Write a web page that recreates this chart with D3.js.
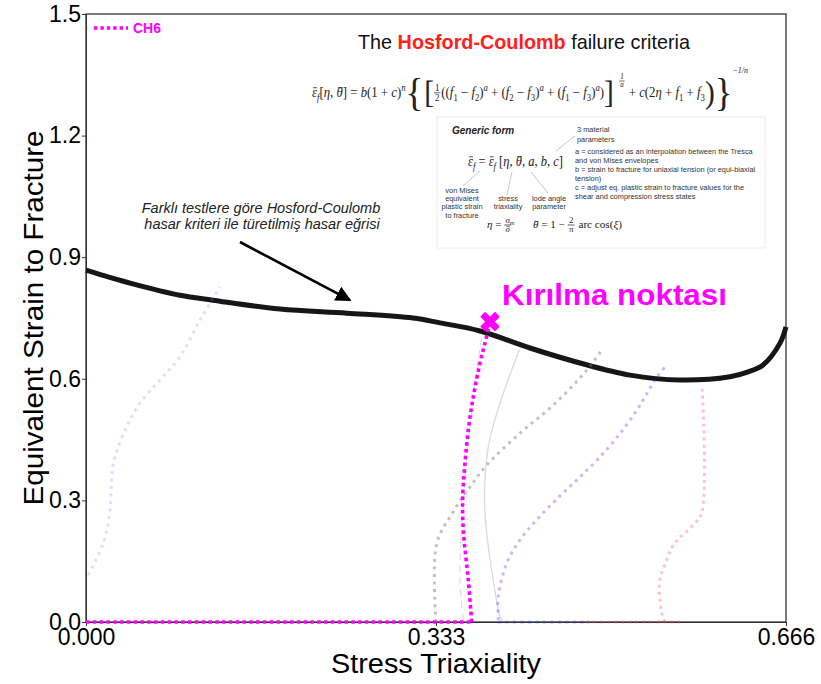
<!DOCTYPE html>
<html>
<head>
<meta charset="utf-8">
<script src="https://cdn.jsdelivr.net/npm/d3@7"></script>
<style>
  body { margin: 0; background: #fff; }
  svg { display: block; }
  text { white-space: pre; }
</style>
</head>
<body>
<svg id="chart" width="821" height="684"></svg>
<script>
// ---- axis ticks ----
const xTicks = [0, 0.333, 0.666];
const yTicks = [0, 0.3, 0.6, 0.9, 1.2, 1.5];

// ---- Hosford-Coulomb fracture locus ----
const hcTriax  = [0, 0.0419, 0.0894, 0.1208, 0.1846, 0.2483, 0.3111, 0.3368, 0.3749, 0.4224, 0.4700, 0.5176, 0.5651, 0.6127, 0.6300, 0.6441, 0.6603, 0.666];
const hcStrain = [0.868, 0.836, 0.806, 0.794, 0.772, 0.762, 0.750, 0.738, 0.718, 0.676, 0.639, 0.609, 0.597, 0.605, 0.617, 0.634, 0.688, 0.728];

// ---- CH6 loading path ----
const ch6Triax  = [0, 0.367, 0.3637, 0.3590, 0.3584, 0.3606, 0.3637, 0.3685, 0.3749, 0.3796, 0.3834];
const ch6Strain = [0, 0, 0.1036, 0.227, 0.309, 0.392, 0.474, 0.556, 0.639, 0.688, 0.730];
const ch6Fracture = [0.3844, 0.741];

// ---- other specimen paths ----
const lavTriax  = [0.0022, 0.0165, 0.0228, 0.0245, 0.0276, 0.0387, 0.0514, 0.0704, 0.0894, 0.1085, 0.1275];
const lavStrain = [0.116, 0.195, 0.276, 0.358, 0.408, 0.482, 0.540, 0.597, 0.654, 0.745, 0.827];

const greyTriax  = [0.333, 0.3337, 0.3495, 0.3653, 0.3812, 0.4130, 0.4446, 0.4764, 0.4906];
const greyStrain = [0, 0.194, 0.272, 0.333, 0.387, 0.466, 0.535, 0.621, 0.671];

const solidTriax  = [0.3970, 0.3939, 0.3875, 0.3828, 0.3796, 0.3796, 0.3828, 0.3907, 0.4003, 0.4122];
const solidStrain = [0, 0.013, 0.103, 0.185, 0.268, 0.350, 0.432, 0.514, 0.588, 0.671];

const dashTriax  = [0.3590, 0.3558, 0.3574, 0.3622, 0.3685, 0.3765];
const dashStrain = [0.005, 0.104, 0.227, 0.392, 0.556, 0.704];

const blueTriax  = [0.3923, 0.3923, 0.4003, 0.4130, 0.4288, 0.4510, 0.4700, 0.4890, 0.5081, 0.5240, 0.5335, 0.5430, 0.5526];
const blueStrain = [0.005, 0.063, 0.145, 0.203, 0.252, 0.311, 0.358, 0.407, 0.465, 0.522, 0.563, 0.604, 0.634];
const blueBaseTriax  = [0.392, 0.478];
const blueBaseStrain = [0, 0];

const redTriax  = [0.551, 0.5492, 0.5461, 0.5461, 0.5525, 0.5588, 0.5778, 0.5857, 0.5863];
const redStrain = [0, 0.009, 0.054, 0.104, 0.153, 0.190, 0.240, 0.268, 0.575];
const redBaseTriax  = [0.476, 0.568];
const redBaseStrain = [0, 0];

// ---- layout ----
const W = 821, H = 684;
const margin = { top: 14, right: 35, bottom: 62, left: 86 };
const sans = "'Liberation Sans', Arial, sans-serif";
const serif = "'Liberation Serif', 'Times New Roman', serif";

const svg = d3.select("#chart");
const x = d3.scaleLinear().domain([0, 0.666]).range([margin.left, W - margin.right]);
const y = d3.scaleLinear().domain([0, 1.5]).range([H - margin.bottom, margin.top]);

const zip = (a, b) => a.map((v, i) => [v, b[i]]);
const smooth = d3.line().x(d => x(d[0])).y(d => y(d[1])).curve(d3.curveCatmullRom.alpha(0.5));
const straight = d3.line().x(d => x(d[0])).y(d => y(d[1]));

const defs = svg.append("defs");
defs.append("filter").attr("id", "soft").append("feGaussianBlur").attr("stdDeviation", 0.6);
defs.append("marker").attr("id", "head").attr("viewBox", "0 0 10 10").attr("refX", 9).attr("refY", 5)
  .attr("markerWidth", 6).attr("markerHeight", 6).attr("orient", "auto").attr("markerUnits", "strokeWidth")
  .append("path").attr("d", "M0,0 L10,5 L0,10 Z").attr("fill", "#000");

// ---- axes ----
const xAxis = svg.append("g").attr("transform", `translate(0,${H - margin.bottom})`)
  .call(d3.axisBottom(x).tickValues(xTicks).tickFormat(d3.format(".3f")).tickSize(4).tickSizeOuter(0).tickPadding(3));
const yAxis = svg.append("g").attr("transform", `translate(${margin.left},0)`)
  .call(d3.axisLeft(y).tickValues(yTicks).tickFormat(d3.format(".1f")).tickSize(4).tickSizeOuter(0).tickPadding(1));
[xAxis, yAxis].forEach(g => {
  g.selectAll("text").attr("font-family", sans).attr("font-size", 23).attr("fill", "#000");
  g.selectAll("line").attr("stroke", "#333");
  g.select(".domain").attr("stroke", "#333");
});

svg.append("rect")
  .attr("x", margin.left).attr("y", margin.top)
  .attr("width", W - margin.left - margin.right).attr("height", H - margin.top - margin.bottom)
  .attr("fill", "none").attr("stroke", "#333").attr("stroke-width", 1.3);

svg.append("text").attr("x", x(0.333)).attr("y", 673).attr("text-anchor", "middle")
  .attr("font-family", sans).attr("font-size", 27.5).attr("textLength", 210).attr("lengthAdjust", "spacingAndGlyphs")
  .text("Stress Triaxiality");
svg.append("text").attr("transform", "translate(43,318) rotate(-90)").attr("text-anchor", "middle")
  .attr("font-family", sans).attr("font-size", 28).attr("textLength", 375).attr("lengthAdjust", "spacingAndGlyphs")
  .text("Equivalent Strain to Fracture");

// ---- fracture locus ----
svg.append("path").datum(zip(hcTriax, hcStrain)).attr("d", smooth)
  .attr("fill", "none").attr("stroke", "#151515").attr("stroke-width", 5).attr("filter", "url(#soft)");

// ---- faint specimen paths ----
const paths = [
  { d: zip(lavTriax, lavStrain), stroke: "rgba(110,110,230,0.22)", w: 3, dash: "3 4.5" },
  { d: zip(greyTriax, greyStrain), stroke: "rgba(120,120,120,0.45)", w: 3, dash: "3 4.5" },
  { d: zip(solidTriax, solidStrain), stroke: "rgba(140,140,140,0.32)", w: 1.3, dash: null },
  { d: zip(dashTriax, dashStrain), stroke: "rgba(90,120,230,0.3)", w: 1, dash: "7 5" },
  { d: zip(blueTriax, blueStrain), stroke: "rgba(40,40,255,0.3)", w: 3, dash: "3 4.5" },
  { d: zip(blueBaseTriax, blueBaseStrain), stroke: "rgba(40,40,255,0.3)", w: 3, dash: "3 4.5", lin: true },
  { d: zip(redTriax, redStrain), stroke: "rgba(255,60,60,0.3)", w: 3, dash: "3 4" },
  { d: zip(redBaseTriax, redBaseStrain), stroke: "rgba(255,60,60,0.3)", w: 3, dash: "3 4", lin: true }
];
paths.forEach(p => {
  svg.append("path").datum(p.d).attr("d", p.lin ? straight : smooth)
    .attr("fill", "none").attr("stroke", p.stroke).attr("stroke-width", p.w)
    .attr("stroke-dasharray", p.dash);
});

// ---- CH6 path and fracture point ----
const ch6 = zip(ch6Triax, ch6Strain);
svg.append("path").datum(ch6.slice(0, 2)).attr("d", straight)
  .attr("fill", "none").attr("stroke", "#ff00ff").attr("stroke-width", 3.6).attr("stroke-dasharray", "3.6 3.2");
svg.append("path").datum(ch6.slice(1)).attr("d", smooth)
  .attr("fill", "none").attr("stroke", "#ff00ff").attr("stroke-width", 3.6).attr("stroke-dasharray", "3.6 3.2");
svg.append("path").attr("d", d3.symbol(d3.symbolCross, 240)())
  .attr("transform", `translate(${x(ch6Fracture[0])},${y(ch6Fracture[1])}) rotate(45)`)
  .attr("fill", "#ff00ff");
svg.append("text").attr("x", 502).attr("y", 305)
  .attr("font-family", sans).attr("font-size", 29).attr("font-weight", "bold").attr("fill", "#ff00ff")
  .attr("textLength", 225).attr("lengthAdjust", "spacingAndGlyphs")
  .text("Kırılma noktası");

// ---- legend ----
svg.append("line").attr("x1", 94).attr("x2", 128).attr("y1", 28).attr("y2", 28)
  .attr("stroke", "#ff00ff").attr("stroke-width", 3.4).attr("stroke-dasharray", "3.4 3");
svg.append("text").attr("x", 133).attr("y", 33).attr("font-family", sans).attr("font-size", 14)
  .attr("font-weight", "bold").attr("fill", "#ff00ff").text("CH6");

// ---- locus annotation ----
const note = svg.append("text").attr("text-anchor", "middle").attr("font-family", sans)
  .attr("font-size", 14.5).attr("font-style", "italic").attr("fill", "#222");
note.append("tspan").attr("x", 261).attr("y", 213).text("Farklı testlere göre Hosford-Coulomb");
note.append("tspan").attr("x", 262).attr("y", 228.5).text("hasar kriteri ile türetilmiş hasar eğrisi");
svg.append("line").attr("x1", x(0.1465)).attr("y1", y(0.9375)).attr("x2", x(0.2512)).attr("y2", y(0.794))
  .attr("stroke", "#000").attr("stroke-width", 2.6).attr("marker-end", "url(#head)");

// ---- criterion heading ----
const title = svg.append("text").attr("x", 358).attr("y", 49).attr("font-family", sans).attr("font-size", 19.8).attr("fill", "#111");
title.append("tspan").text("The ");
title.append("tspan").attr("font-weight", "bold").attr("fill", "#ff2020").text("Hosford-Coulomb");
title.append("tspan").text(" failure criteria");

// Lays out a formula left to right from measured glyph widths.
// item: {t, i (italic), sub, sup, bar (overbar), big (size factor), dy, frac:[num, den], fs (frac size factor), gap}
function formula(parent, x0, yb, size, items, targetWidth) {
  const g = parent.append("g");
  const ink = "#222";
  let cx = 0;
  const txt = (s, px, py, fs, it, anchor) => g.append("text").attr("x", px).attr("y", py)
    .attr("font-family", serif).attr("font-size", fs).attr("font-style", it ? "italic" : "normal")
    .attr("text-anchor", anchor || "start").attr("fill", ink).text(s);
  items.forEach(it => {
    if (it.frac) {
      const fs = size * (it.fs || 0.68);
      const cy = it.dy || -size * 0.3;
      const n = txt(it.frac[0], 0, cy - fs * 0.22, fs, it.i);
      const d = txt(it.frac[1], 0, cy + fs * 0.82, fs, it.i);
      const wn = n.node().getComputedTextLength(), wd = d.node().getComputedTextLength();
      const w = Math.max(wn, wd) + 2;
      n.attr("x", cx + 1 + (w - 2 - wn) / 2);
      d.attr("x", cx + 1 + (w - 2 - wd) / 2);
      g.append("line").attr("x1", cx).attr("x2", cx + w).attr("y1", cy).attr("y2", cy)
        .attr("stroke", ink).attr("stroke-width", 0.7);
      if (it.barDen) {
        const bx = cx + 1 + (w - 2 - wd) / 2;
        g.append("line").attr("x1", bx + wd * 0.25).attr("x2", bx + wd * 0.95)
          .attr("y1", cy + fs * 0.82 - fs * 0.62).attr("y2", cy + fs * 0.82 - fs * 0.62).attr("stroke", ink).attr("stroke-width", 0.6);
      }
      if (it.numSub) {
        g.append("text").attr("x", cx + 1 + (w - 2 - wn) / 2 + wn).attr("y", cy - fs * 0.22 + fs * 0.2)
          .attr("font-family", serif).attr("font-size", fs * 0.7).attr("font-style", "italic").attr("fill", ink).text(it.numSub);
      }
      cx += w + 1;
      return;
    }
    let fs = size, dy = 0;
    if (it.sub) { fs = size * 0.68; dy = size * 0.26; }
    if (it.sup) { fs = size * 0.68; dy = -size * 0.42; }
    if (it.big) { fs = size * it.big; }
    if (it.dy !== undefined) dy = it.dy;
    const t = txt(it.t, cx, dy, fs, it.i);
    const w = t.node().getComputedTextLength();
    if (it.bar) {
      g.append("line").attr("x1", cx + w * 0.22).attr("x2", cx + w * 1.0)
        .attr("y1", dy - fs * 0.66).attr("y2", dy - fs * 0.66).attr("stroke", ink).attr("stroke-width", fs * 0.06);
    }
    cx += w + (it.gap || 0);
  });
  const s = targetWidth ? targetWidth / cx : 1;
  g.attr("transform", `translate(${x0},${yb}) scale(${s},1)`);
  return g;
}

const I = t => ({ t, i: true });
const R = t => ({ t });
const Sb = t => ({ t, sub: true });
const Si = t => ({ t, sub: true, i: true });
const Pi = t => ({ t, sup: true, i: true });
const EPS = { t: "ε", i: true, bar: true };
const TH = { t: "θ", i: true, bar: true };

// main criterion
formula(svg, 312, 97, 14, [
  EPS, Si("f"), R("["), I("η"), R(", "), TH, R("] = "), I("b"), R("(1 + "), I("c"), R(")"), Pi("n"),
  { t: "{", big: 2.9, dy: 9, gap: 1 }, { t: "[", big: 2.3, dy: 6 },
  { frac: ["1", "2"], fs: 0.7 },
  R("(("), I("f"), Sb("1"), R(" − "), I("f"), Sb("2"), R(")"), Pi("a"),
  R(" + ("), I("f"), Sb("2"), R(" − "), I("f"), Sb("3"), R(")"), Pi("a"),
  R(" + ("), I("f"), Sb("1"), R(" − "), I("f"), Sb("3"), R(")"), Pi("a"), R(")"),
  { t: "]", big: 2.3, dy: 6, gap: 6 },
  { frac: ["1", "a"], fs: 0.55, dy: -16, i: true },
  R(" + "), I("c"), R("(2"), I("η"), R(" + "), I("f"), Sb("1"), R(" + "), I("f"), Sb("3"),
  { t: ")", big: 2.3, dy: 6 }, { t: "}", big: 2.9, dy: 9 },
  { t: "−1/", i: true, dy: -24, big: 0.62 }, { t: "n", i: true, dy: -24, big: 0.62 }
], 436);

// ---- generic form panel ----
const P = svg.append("g");
P.append("rect").attr("x", 437).attr("y", 117).attr("width", 328).attr("height", 131)
  .attr("fill", "#fff").attr("stroke", "#ececec");
P.append("text").attr("x", 452).attr("y", 134).attr("font-family", sans).attr("font-size", 10)
  .attr("font-style", "italic").attr("font-weight", "bold").attr("fill", "#222").text("Generic form");

formula(P, 468, 166, 14, [EPS, Si("f"), R(" = "), EPS, Si("f"), R(" ["), I("η"), R(", "), TH, R(", "),
  I("a"), R(", "), I("b"), R(", "), I("c"), R("]")], 95);
formula(P, 487, 228, 10, [I("η"), R(" = "), { frac: ["σ", "σ"], numSub: "m", barDen: true, i: true, fs: 0.8 }], 25);
formula(P, 533, 228, 10, [TH, R(" = 1 − "), { frac: ["2", "π"], fs: 0.8 }, R(" arc cos("), I("ξ"), R(")")], 89);

const small = (px, py, s, anchor) => P.append("text").attr("x", px).attr("y", py).attr("font-family", sans)
  .attr("font-size", 7.4).attr("text-anchor", anchor || "start").attr("fill", "#333").text(s);
small(577, 132, "3 material");
small(577, 142, "parameters");
["a = considered as an interpolation between the Tresca",
 "and von Mises envelopes",
 "b = strain to fracture for uniaxial tension (or equi-biaxial",
 "tension)",
 "c = adjust eq. plastic strain to fracture values for the",
 "shear and compression stress states"].forEach((s, i) => small(575, 154 + i * 9, s));
["von Mises", "equivalent", "plastic strain", "to fracture"].forEach((s, i) => small(462, 193 + i * 8.2, s, "middle"));
["stress", "triaxiality"].forEach((s, i) => small(508, 201 + i * 8.2, s, "middle"));
["lode angle", "parameter"].forEach((s, i) => small(549, 201 + i * 8.2, s, "middle"));
[[575, 136, 556, 151], [463, 186, 480, 171], [507, 195, 512, 172], [548, 193, 531, 172]].forEach(([a, b, c, d]) =>
  P.append("line").attr("x1", a).attr("y1", b).attr("x2", c).attr("y2", d).attr("stroke", "#c8c8c8").attr("stroke-width", 1));
</script>
</body>
</html>
